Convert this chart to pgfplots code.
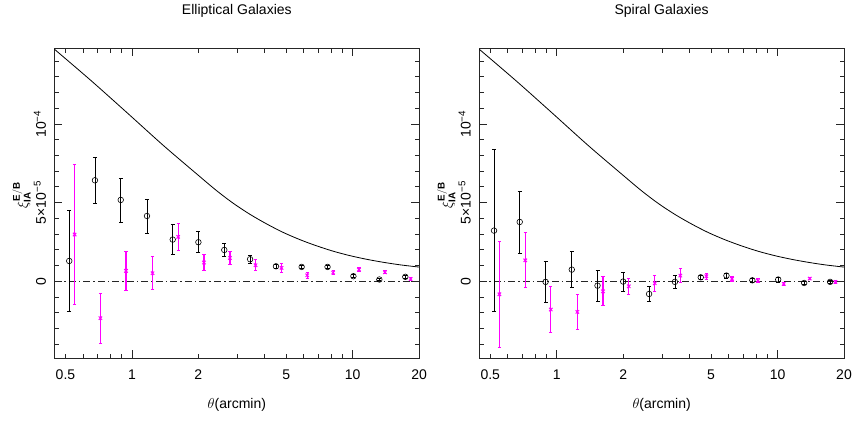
\documentclass[border=0pt]{standalone}
\usepackage{fontspec}
\setmainfont{Liberation Sans}
\usepackage{pgfplots}
\usepackage{pgfplotstable}
\pgfplotsset{compat=1.18}
\definecolor{mag}{RGB}{255,0,255}

% values in units of 1e-5
\pgfplotstableread{
x y e
0.52 1.29 3.20
0.68 6.42 1.45
0.89 5.17 1.40
1.17 4.15 1.08
1.53 2.65 0.97
2.00 2.48 0.67
2.62 1.99 0.42
3.43 1.40 0.25
4.49 0.95 0.15
5.87 0.91 0.12
7.69 0.91 0.12
10.07 0.32 0.10
13.2 0.11 0.08
17.3 0.28 0.08
}\LE
\pgfplotstableread{
x y e
0.55 2.97 4.45
0.72 -2.35 1.60
0.94 0.66 1.23
1.24 0.51 1.05
1.62 2.82 0.85
2.12 1.19 0.50
2.78 1.48 0.44
3.63 1.02 0.35
4.76 0.85 0.30
6.22 0.38 0.20
8.15 0.55 0.15
10.67 0.74 0.12
13.99 0.57 0.10
18.3 0.15 0.08
}\LB
\pgfplotstableread{
x y e
0.52 3.22 5.15
0.68 3.77 1.97
0.89 -0.04 1.33
1.17 0.74 1.15
1.53 -0.28 1.00
2.00 -0.02 0.60
2.62 -0.81 0.50
3.43 -0.04 0.40
4.49 0.25 0.15
5.87 0.36 0.15
7.69 0.06 0.15
10.07 0.11 0.15
13.2 -0.11 0.10
17.3 -0.04 0.08
}\RE
\pgfplotstableread{
x y e
0.55 -0.83 3.37
0.72 1.33 1.74
0.94 -1.80 1.46
1.24 -1.95 1.10
1.62 -0.64 0.93
2.12 -0.32 0.50
2.78 -0.13 0.50
3.63 0.36 0.42
4.76 0.32 0.20
6.22 0.15 0.15
8.15 0.04 0.12
10.67 -0.17 0.10
13.99 0.17 0.08
18.3 -0.04 0.08
}\RB
\pgfplotstableread{
x y
0.446 14.75
0.654 12.75
0.955 10.69
1.397 8.60
2.040 6.63
2.428 5.74
2.888 4.94
3.438 4.24
4.093 3.63
4.867 3.09
5.800 2.63
6.897 2.24
8.203 1.90
9.763 1.62
11.62 1.39
13.82 1.20
16.45 1.04
20.0 0.90
}\TH

\pgfplotsset{
  every axis/.append style={
    scale only axis, width=364.7pt, height=309.8pt,
    xmode=log, xmin=0.446, xmax=20, ymin=-4.9, ymax=14.8,
    /pgf/number format/assume math mode=true,
    axis line style={line width=0.8pt, black!85},
    tick style={line width=0.8pt, black!85},
    tick align=inside,
    major tick length=8pt, minor tick length=4.5pt,
    xtick={1,10}, xticklabels={1,10},
    extra x ticks={0.5,2,5,20}, extra x tick labels={0.5,2,5,20},
    extra tick style={major tick length=4.5pt},
    minor xtick={0.6,0.7,0.8,0.9,3,4,6,7,8,9},
    ytick={0,5,10}, yticklabels={0,5×10\textsuperscript{−5},10\textsuperscript{−4}},
    minor ytick={-4,-3,-2,-1,1,2,3,4,6,7,8,9,11,12,13,14},
    ticklabel style={font=\fontsize{14}{16}\selectfont},
    yticklabel style={rotate=90, anchor=south},
    xticklabel shift=8pt, yticklabel shift=5pt,
    xlabel={$\theta$(arcmin)},
    xlabel style={font=\fontsize{14}{16}\selectfont, at={(0.5,0)}, anchor=center, yshift=-47pt},
    ylabel={$\xi^{\mathbf{E/B}}_{\mathbf{IA}}$},
    ylabel style={font=\fontsize{14}{16}\selectfont, at={(0,0.5)}, anchor=center, xshift=8pt, yshift=33pt},
    title style={font=\fontsize{14}{16}\selectfont, at={(0.5,1)}, anchor=base, yshift=27.5pt},
  },
}

\begin{document}
\begin{tikzpicture}
\useasboundingbox (0,0) rectangle (852pt,423pt);
\begin{axis}[at={(54.5pt,64.7pt)}, anchor=south west, title={Elliptical Galaxies}]
\addplot[black!85, line width=0.7pt, dash pattern=on 7pt off 3pt on 1.5pt off 3pt] coordinates {(0.446,0) (20,0)};
\addplot[black, line width=0.8pt, smooth, tension=0.5] table[x=x,y=y] {\TH};
\addplot[only marks, mark=o, black, mark size=2.8pt, mark options={fill=white, line width=0.6pt},
    error bars/.cd, y dir=both, y explicit,
    error bar style={line width=0.7pt, black},
    error mark options={rotate=90, mark size=2pt, line width=0.7pt, black}] table[x=x,y=y,y error=e] {\LE};
\addplot[only marks, mark=x, mag, mark size=2.4pt, mark options={line width=1pt},
    error bars/.cd, y dir=both, y explicit,
    error bar style={line width=1.1pt, mag},
    error mark options={rotate=90, mark size=1.6pt, line width=1pt, mag}] table[x=x,y=y,y error=e] {\LB};
\end{axis}
\begin{axis}[at={(479.3pt,64.7pt)}, anchor=south west, title={Spiral Galaxies}]
\addplot[black!85, line width=0.7pt, dash pattern=on 7pt off 3pt on 1.5pt off 3pt] coordinates {(0.446,0) (20,0)};
\addplot[black, line width=0.8pt, smooth, tension=0.5] table[x=x,y=y] {\TH};
\addplot[only marks, mark=o, black, mark size=2.8pt, mark options={fill=white, line width=0.6pt},
    error bars/.cd, y dir=both, y explicit,
    error bar style={line width=0.7pt, black},
    error mark options={rotate=90, mark size=2pt, line width=0.7pt, black}] table[x=x,y=y,y error=e] {\RE};
\addplot[only marks, mark=x, mag, mark size=2.4pt, mark options={line width=1pt},
    error bars/.cd, y dir=both, y explicit,
    error bar style={line width=1.1pt, mag},
    error mark options={rotate=90, mark size=1.6pt, line width=1pt, mag}] table[x=x,y=y,y error=e] {\RB};
\end{axis}
\end{tikzpicture}
\end{document}
